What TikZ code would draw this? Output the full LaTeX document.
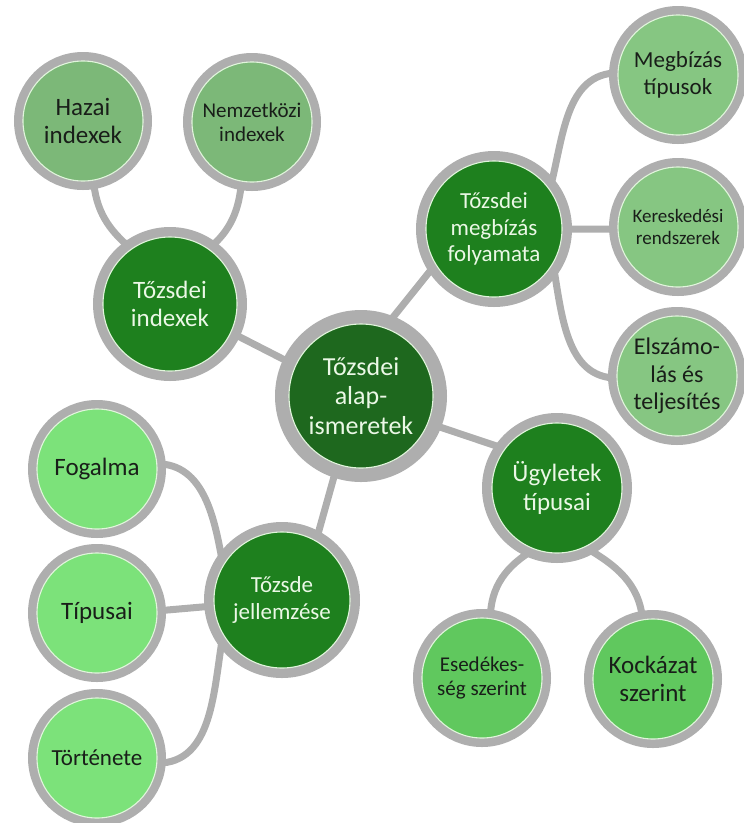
\documentclass[tikz,border=0pt]{standalone}
\usepackage{fontspec}
\setmainfont{Carlito}
\usetikzlibrary{backgrounds}

\definecolor{ringgray}{RGB}{174,174,174}
\definecolor{rootgreen}{RGB}{30,104,30}
\definecolor{midgreen}{RGB}{30,128,30}
\definecolor{idxleaf}{RGB}{124,184,120}
\definecolor{megbleaf}{RGB}{134,198,130}
\definecolor{jellleaf}{RGB}{124,226,122}
\definecolor{ugyleaf}{RGB}{96,200,94}
\definecolor{rimline}{RGB}{225,245,220}
\definecolor{darktext}{RGB}{25,30,25}
\definecolor{lighttext}{RGB}{235,248,230}

\newcommand{\fs}[1]{\fontsize{#1}{\dimexpr #1pt*115/100\relax}\selectfont}

\tikzset{
  bubble/.style n args={3}{circle, inner sep=0pt, outer sep=0pt, align=center,
    minimum size=#1, draw=rimline, line width=1.1pt,
    preaction={draw=ringgray, line width=#2}, fill=#3},
  rootbub/.style={bubble={144pt}{28pt}{rootgreen}, text=lighttext},
  midbub/.style={bubble={136pt}{20pt}{midgreen}, text=lighttext},
  leafbub/.style={bubble={120pt}{18pt}{#1}, text=darktext},
  link/.style={draw=ringgray, line width=7pt}
}

\begin{document}
\begin{tikzpicture}[x=1pt,y=1pt]
\useasboundingbox (0,0) rectangle (744,-823);

% central topic
\node[rootbub, font=\fs{26}] (root) at (361,-396) {Tőzsdei\\alap-\\ismeretek};

% first level
\node[midbub, minimum size=134pt, font=\fs{25}] (idx)  at (170,-304) {Tőzsdei\\indexek};
\node[midbub, font=\fs{23}] (megb) at (494,-229) {Tőzsdei\\megbízás\\folyamata};
\node[midbub, font=\fs{23}] (jell) at (282,-600) {Tőzsde\\jellemzése};
\node[midbub, minimum size=130pt, font=\fs{25}] (ugy)  at (557,-488) {Ügyletek\\típusai};

% second level
\node[leafbub=idxleaf, font=\fs{25}] (hazai) at (83,-121)  {Hazai\\indexek};
\node[leafbub=idxleaf, font=\fs{21}] (nemz)  at (252,-122) {Nemzetközi\\indexek};

\node[leafbub=megbleaf, font=\fs{23}] (mtip) at (678,-75)  {Megbízás\\típusok};
\node[leafbub=megbleaf, font=\fs{19}] (ker)  at (678,-227) {Kereskedési\\rendszerek};
\node[leafbub=megbleaf, font=\fs{24}] (elsz) at (677,-376) {Elszámo-\\lás és\\teljesítés};

\node[leafbub=jellleaf, font=\fs{25}] (fog) at (97,-469) {Fogalma};
\node[leafbub=jellleaf, font=\fs{25}] (tip) at (97,-613) {Típusai};
\node[leafbub=jellleaf, font=\fs{23}] (tor) at (97,-758) {Története};

\node[leafbub=ugyleaf, font=\fs{21}] (ese) at (482,-678) {Esedékes-\\ség szerint};
\node[leafbub=ugyleaf, font=\fs{25}] (koc) at (653,-679) {Kockázat\\szerint};

% connectors behind the bubbles
\begin{scope}[on background layer]
  \path[link] (root.155) -- (idx.-25);
  \path[link] (root.71)  -- (megb.211);
  \path[link] (root.-22) -- (ugy.143);
  \path[link] (root.251) -- (jell.60);

  \path[link] (hazai.-80) to[out=-85,in=140] (idx.125);
  \path[link] (nemz.-100) to[out=-95,in=40]  (idx.55);

  \path[link] (megb.35)  to[out=75,in=180]  (mtip.178);
  \path[link] (megb.0)   -- (ker.182);
  \path[link] (megb.-30) to[out=-80,in=180] (elsz.182);

  \path[link] (fog.5)   to[out=0,in=100]  (jell.150);
  \path[link] (tip.2)   -- (jell.185);
  \path[link] (tor.-5)  to[out=0,in=-100] (jell.210);

  \path[link] (ugy.-110) to[out=210,in=90] (ese.82);
  \path[link] (ugy.-65)  to[out=-30,in=95] (koc.100);
\end{scope}
\end{tikzpicture}
\end{document}
